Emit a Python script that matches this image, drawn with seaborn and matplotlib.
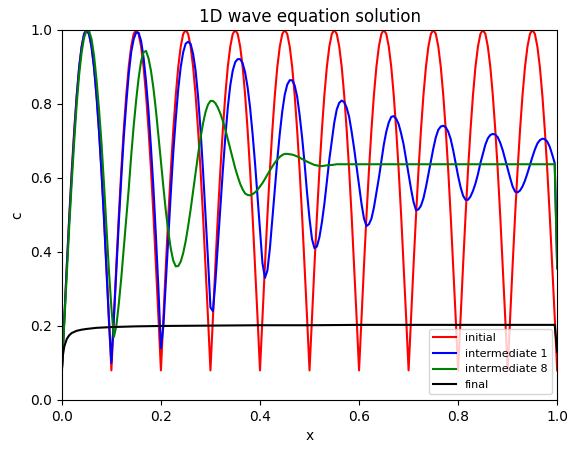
import numpy as np
import pandas as pd
import matplotlib
matplotlib.use("Agg")
import matplotlib.pyplot as plt
import seaborn as sns

# sample grid shared by the three wave curves (step 0.005)
x = np.round(np.linspace(0, 1, 201), 3)

c_initial = [
    0.08, 0.224, 0.364, 0.498, 0.621, 0.730, 0.824, 0.900, 0.955, 0.989, 1.0, 0.989, 0.955, 0.900, 0.824, 0.730, 0.621, 0.498, 0.364, 0.224,
    0.08, 0.224, 0.364, 0.498, 0.621, 0.730, 0.824, 0.900, 0.955, 0.989, 1.0, 0.989, 0.955, 0.900, 0.824, 0.730, 0.621, 0.498, 0.364, 0.224,
    0.08, 0.224, 0.364, 0.498, 0.621, 0.730, 0.824, 0.900, 0.955, 0.989, 1.0, 0.989, 0.955, 0.900, 0.824, 0.730, 0.621, 0.498, 0.364, 0.224,
    0.08, 0.224, 0.364, 0.498, 0.621, 0.730, 0.824, 0.900, 0.955, 0.989, 1.0, 0.989, 0.955, 0.900, 0.824, 0.730, 0.621, 0.498, 0.364, 0.224,
    0.08, 0.224, 0.364, 0.498, 0.621, 0.730, 0.824, 0.900, 0.955, 0.989, 1.0, 0.989, 0.955, 0.900, 0.824, 0.730, 0.621, 0.498, 0.364, 0.224,
    0.08, 0.224, 0.364, 0.498, 0.621, 0.730, 0.824, 0.900, 0.955, 0.989, 1.0, 0.989, 0.955, 0.900, 0.824, 0.730, 0.621, 0.498, 0.364, 0.224,
    0.08, 0.224, 0.364, 0.498, 0.621, 0.730, 0.824, 0.900, 0.955, 0.989, 1.0, 0.989, 0.955, 0.900, 0.824, 0.730, 0.621, 0.498, 0.364, 0.224,
    0.08, 0.224, 0.364, 0.498, 0.621, 0.730, 0.824, 0.900, 0.955, 0.989, 1.0, 0.989, 0.955, 0.900, 0.824, 0.730, 0.621, 0.498, 0.364, 0.224,
    0.08, 0.224, 0.364, 0.498, 0.621, 0.730, 0.824, 0.900, 0.955, 0.989, 1.0, 0.989, 0.955, 0.900, 0.824, 0.730, 0.621, 0.498, 0.364, 0.224,
    0.08, 0.224, 0.364, 0.498, 0.621, 0.730, 0.824, 0.900, 0.955, 0.989, 1.0, 0.989, 0.955, 0.900, 0.824, 0.730, 0.621, 0.498, 0.364, 0.224,
    0.08,
]

c_inter1 = [
    0.08, 0.22, 0.36, 0.49, 0.61, 0.72, 0.82, 0.90, 0.955, 0.99, 1.0, 0.988, 0.953, 0.897, 0.82, 0.725, 0.615, 0.49, 0.355, 0.215,
    0.10, 0.22, 0.35, 0.48, 0.60, 0.71, 0.80, 0.88, 0.94, 0.975, 0.993, 0.992, 0.97, 0.925, 0.86, 0.78, 0.68, 0.57, 0.44, 0.30,
    0.14, 0.20, 0.32, 0.44, 0.56, 0.67, 0.76, 0.84, 0.90, 0.94, 0.963, 0.968, 0.962, 0.935, 0.89, 0.82, 0.73, 0.62, 0.50, 0.38,
    0.25, 0.24, 0.32, 0.42, 0.52, 0.62, 0.71, 0.79, 0.85, 0.89, 0.913, 0.921, 0.921, 0.91, 0.885, 0.845, 0.79, 0.72, 0.64, 0.55,
    0.46, 0.37, 0.33, 0.35, 0.41, 0.49, 0.57, 0.65, 0.72, 0.78, 0.825, 0.852, 0.864, 0.864, 0.85, 0.82, 0.77, 0.71, 0.64, 0.56,
    0.49, 0.435, 0.41, 0.415, 0.44, 0.48, 0.53, 0.59, 0.65, 0.70, 0.75, 0.785, 0.803, 0.809, 0.805, 0.79, 0.765, 0.725, 0.68, 0.63,
    0.58, 0.53, 0.49, 0.47, 0.475, 0.49, 0.52, 0.56, 0.60, 0.645, 0.69, 0.725, 0.75, 0.765, 0.767, 0.76, 0.745, 0.72, 0.69, 0.65,
    0.61, 0.57, 0.535, 0.513, 0.515, 0.525, 0.545, 0.575, 0.61, 0.645, 0.68, 0.71, 0.73, 0.739, 0.741, 0.737, 0.725, 0.705, 0.675, 0.64,
    0.605, 0.575, 0.552, 0.541, 0.541, 0.55, 0.565, 0.585, 0.61, 0.64, 0.665, 0.69, 0.707, 0.716, 0.719, 0.717, 0.71, 0.695, 0.675, 0.65,
    0.625, 0.60, 0.577, 0.563, 0.561, 0.566, 0.577, 0.593, 0.613, 0.635, 0.657, 0.677, 0.693, 0.702, 0.706, 0.705, 0.698, 0.684, 0.663, 0.64,
    0.357,
]

c_inter8 = [
    0.08, 0.21, 0.34, 0.47, 0.59, 0.70, 0.80, 0.88, 0.94, 0.98, 0.998, 0.997, 0.975, 0.93, 0.865, 0.785, 0.695, 0.585, 0.465, 0.35,
    0.25, 0.17, 0.20, 0.26, 0.33, 0.41, 0.49, 0.57, 0.66, 0.74, 0.81, 0.87, 0.915, 0.94, 0.943, 0.923, 0.889, 0.841, 0.782, 0.715,
    0.645, 0.575, 0.51, 0.454, 0.408, 0.376, 0.361, 0.362, 0.374, 0.397, 0.429, 0.47, 0.515, 0.564, 0.615, 0.663, 0.708, 0.747, 0.778, 0.798,
    0.808, 0.808, 0.802, 0.79, 0.774, 0.754, 0.731, 0.705, 0.678, 0.652, 0.626, 0.604, 0.584, 0.569, 0.558, 0.554, 0.553, 0.556, 0.561, 0.568,
    0.577, 0.586, 0.597, 0.609, 0.62, 0.631, 0.641, 0.65, 0.657, 0.662, 0.665, 0.665, 0.664, 0.663, 0.661, 0.658, 0.655, 0.651, 0.648, 0.644,
    0.641, 0.638, 0.635, 0.634, 0.632, 0.632, 0.633, 0.634, 0.635, 0.635, 0.636, 0.637, 0.637, 0.637, 0.637, 0.637, 0.637, 0.637, 0.637, 0.637,
    0.637, 0.637, 0.637, 0.637, 0.637, 0.637, 0.637, 0.637, 0.637, 0.637, 0.637, 0.637, 0.637, 0.637, 0.637, 0.637, 0.637, 0.637, 0.637, 0.637,
    0.637, 0.637, 0.637, 0.637, 0.637, 0.637, 0.637, 0.637, 0.637, 0.637, 0.637, 0.637, 0.637, 0.637, 0.637, 0.637, 0.637, 0.637, 0.637, 0.637,
    0.637, 0.637, 0.637, 0.637, 0.637, 0.637, 0.637, 0.637, 0.637, 0.637, 0.637, 0.637, 0.637, 0.637, 0.637, 0.637, 0.637, 0.637, 0.637, 0.637,
    0.637, 0.637, 0.637, 0.637, 0.637, 0.637, 0.637, 0.637, 0.637, 0.637, 0.637, 0.637, 0.637, 0.637, 0.637, 0.637, 0.637, 0.637, 0.637, 0.637,
    0.355,
]

# final state sampled on its own (coarser) grid
x_final = [0, 0.002, 0.005, 0.01, 0.015, 0.02, 0.03, 0.04, 0.05, 0.07, 0.1, 0.15,
           0.2, 0.3, 0.4, 0.5, 0.6, 0.7, 0.8, 0.9, 0.995, 1.0]
c_final = [0.077, 0.12, 0.145, 0.165, 0.175, 0.181, 0.187, 0.19, 0.192, 0.195, 0.197, 0.199,
           0.2, 0.201, 0.202, 0.202, 0.203, 0.203, 0.203, 0.203, 0.203, 0.13]

fig, ax = plt.subplots(figsize=(5.78, 4.53), dpi=100)
fig.subplots_adjust(left=0.107, right=0.964, bottom=0.117, top=0.934)

line_kw = dict(ax=ax, estimator=None, sort=False, linewidth=1.5)
sns.lineplot(x=x, y=c_initial, color="red", label="initial", **line_kw)
sns.lineplot(x=x, y=c_inter1, color="blue", label="intermediate 1", **line_kw)
sns.lineplot(x=x, y=c_inter8, color="green", label="intermediate 8", **line_kw)
sns.lineplot(x=x_final, y=c_final, color="black", label="final", **line_kw)

ax.set_xlim(0, 1)
ax.set_ylim(0, 1)
ax.set_xlabel("x")
ax.set_ylabel("c")
ax.set_title("1D wave equation solution")
ax.legend(loc="lower right", fontsize=8)

fig.savefig("out.png", dpi=100)
